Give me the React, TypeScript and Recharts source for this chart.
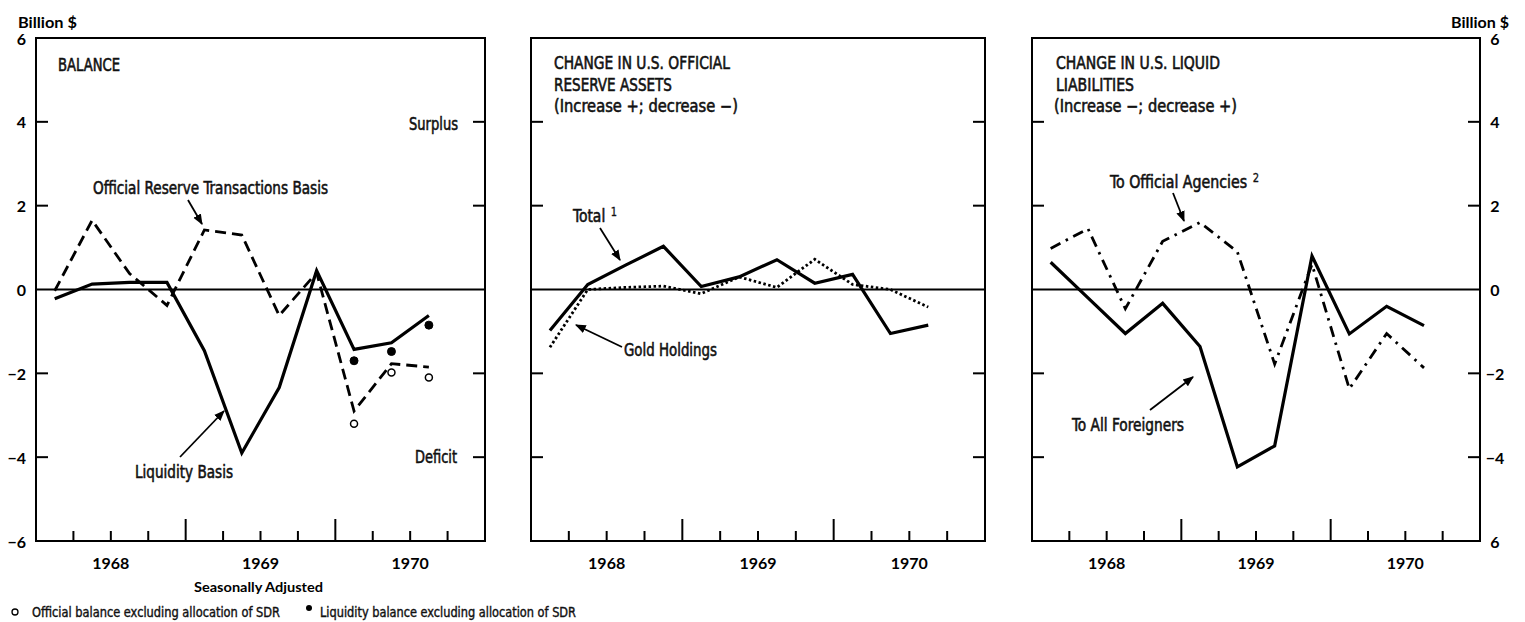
import { LineChart, Line, XAxis, YAxis, ReferenceLine, ReferenceArea } from "recharts";

// quarters on the time axis, 1968 Q1 .. 1970 Q4 (last quarter has no data yet)
const quarters = [
  "1968 Q1", "1968 Q2", "1968 Q3", "1968 Q4",
  "1969 Q1", "1969 Q2", "1969 Q3", "1969 Q4",
  "1970 Q1", "1970 Q2", "1970 Q3", "1970 Q4",
];
const years = ["1968", "1969", "1970"];

// Balance panel
const officialReserveBasis = [-0.03, 1.65, 0.38, -0.38, 1.42, 1.3, -0.62, 0.4, -2.9, -1.77, -1.85];
const liquidityBasis = [-0.22, 0.13, 0.17, 0.17, -1.46, -3.9, -2.34, 0.45, -1.43, -1.27, -0.62];
const officialExSdr = [null, null, null, null, null, null, null, null, -3.2, -1.98, -2.1];
const liquidityExSdr = [null, null, null, null, null, null, null, null, -1.7, -1.48, -0.85];

// Reserve assets panel
const reserveTotal = [-0.98, 0.12, 0.58, 1.03, 0.07, 0.3, 0.71, 0.15, 0.36, -1.05, -0.85];
const goldHoldings = [-1.38, 0.0, 0.05, 0.08, -0.1, 0.3, 0.05, 0.72, 0.12, 0.0, -0.42];

// Liquid liabilities panel
const toOfficialAgencies = [0.98, 1.45, -0.46, 1.15, 1.6, 0.9, -1.78, 0.6, -2.37, -1.05, -1.87];
const toAllForeigners = [0.65, -0.2, -1.05, -0.33, -1.36, -4.23, -3.73, 0.8, -1.06, -0.4, -0.86];

const yTicks = [-6, -4, -2, 0, 2, 4, 6];
const leftTickLabels = ["−6", "−4", "−2", "0", "2", "4", "6"];
const rightTickLabels = ["6", "−4", "−2", "0", "2", "4", "6"];
const quarterBounds = [1, 2, 3, 4, 5, 6, 7, 8, 9, 10, 11];

const NARROW = "'Liberation Sans Narrow', 'Arial Narrow', 'DejaVu Sans Condensed', sans-serif";
const HEAVY = "Lato, 'DejaVu Sans', sans-serif";

function buildRows(series: Record<string, (number | null)[]>) {
  return quarters.map((q, i) => {
    const row: Record<string, any> = { q, x: i + 0.5 };
    for (const key of Object.keys(series)) row[key] = series[key][i] ?? null;
    return row;
  });
}

// left axis tick: inward marks on both frame sides, labels outside
function YTick(props: any) {
  const { x, y, payload, plotWidth, leftLabels, rightLabels } = props;
  const v = payload.value;
  const idx = yTicks.indexOf(v);
  const mark = v !== 0 && Math.abs(v) !== 6;
  const xr = x + plotWidth;
  return (
    <g>
      {mark && <line x1={x} x2={x + 12} y1={y} y2={y} stroke="#000" strokeWidth={2} />}
      {mark && <line x1={xr} x2={xr - 12} y1={y} y2={y} stroke="#000" strokeWidth={2} />}
      {leftLabels && (
        <text x={x - 10} y={y} textAnchor="end" dominantBaseline="central"
          fontFamily={HEAVY} fontWeight={700} fontSize={16}>
          {leftLabels[idx]}
        </text>
      )}
      {rightLabels && (
        <text x={xr + 15} y={y} textAnchor="middle" dominantBaseline="central"
          fontFamily={HEAVY} fontWeight={700} fontSize={16}>
          {rightLabels[idx]}
        </text>
      )}
    </g>
  );
}

function XTick(props: any) {
  const { x, y, payload } = props;
  const v = payload.value;
  const long = v % 4 === 0;
  const yearIdx = (v - 2) / 4;
  return (
    <g>
      <line x1={x} x2={x} y1={y} y2={y - (long ? 22 : 10)} stroke="#000" strokeWidth={2} />
      {Number.isInteger(yearIdx) && years[yearIdx] && (
        <text x={x} y={y + 21} textAnchor="middle" dominantBaseline="central"
          fontFamily={HEAVY} fontWeight={700} fontSize={16}>
          {years[yearIdx]}
        </text>
      )}
    </g>
  );
}

function Panel({
  plotLeft,
  plotRight,
  rows,
  leftLabels,
  rightLabels,
  children,
}: {
  plotLeft: number;
  plotRight: number;
  rows: any[];
  leftLabels?: string[];
  rightLabels?: string[];
  children: React.ReactNode;
}) {
  const pad = 40;
  const plotWidth = plotRight - plotLeft;
  return (
    <div style={{ position: "absolute", left: plotLeft - pad, top: 0 }}>
      <LineChart
        width={plotWidth + pad * 2}
        height={622}
        data={rows}
        margin={{ top: 38, right: pad, bottom: 0, left: 0 }}
      >
        <XAxis
          type="number"
          dataKey="x"
          domain={[0, 12]}
          ticks={quarterBounds}
          interval={0}
          height={81}
          axisLine={false}
          tickLine={false}
          tickSize={0}
          tickMargin={0}
          tick={(p: any) => <XTick {...p} />}
        />
        <YAxis
          yAxisId="l"
          domain={[-6, 6]}
          ticks={yTicks}
          interval={0}
          width={pad}
          axisLine={false}
          tickLine={false}
          tickSize={0}
          tickMargin={0}
          tick={(p: any) => (
            <YTick {...p} plotWidth={plotWidth} leftLabels={leftLabels} rightLabels={rightLabels} />
          )}
        />
        <ReferenceArea
          yAxisId="l"
          x1={0}
          x2={12}
          y1={-6}
          y2={6}
          fill="none"
          stroke="#000"
          strokeWidth={2}
          ifOverflow="visible"
        />
        <ReferenceLine yAxisId="l" y={0} stroke="#000" strokeWidth={2} />
        {children}
      </LineChart>
    </div>
  );
}

const lineBase = {
  yAxisId: "l",
  type: "linear" as const,
  dot: false,
  activeDot: false,
  isAnimationActive: false,
  stroke: "#000",
};

function Note({ x, y, w, size = 17, anchor = "start", weight = 0.55, sup, children }: any) {
  return (
    <text
      x={x}
      y={y}
      textLength={w}
      lengthAdjust="spacingAndGlyphs"
      textAnchor={anchor}
      dominantBaseline="central"
      fontFamily={NARROW}
      fontSize={size}
      fill="#111"
      stroke="#111"
      strokeWidth={weight}
    >
      {children}
      {sup && (
        <tspan dx={6} dy={-4} fontSize={12} strokeWidth={0.3}>
          {sup}
        </tspan>
      )}
    </text>
  );
}

function Annotations() {
  const arrow = { stroke: "#000", strokeWidth: 1.8, markerEnd: "url(#ah)" };
  const heavy = { fontFamily: HEAVY, fontWeight: 700, dominantBaseline: "central" as const };
  return (
    <svg width={1525} height={622} style={{ position: "absolute", left: 0, top: 0, pointerEvents: "none" }}>
      <defs>
        <marker id="ah" viewBox="0 0 10 10" refX="9" refY="5" markerWidth="6" markerHeight="6" orient="auto">
          <path d="M0,1 L10,5 L0,9 z" fill="#000" />
        </marker>
      </defs>
      <text x={18} y={22} fontSize={15} textLength={59} lengthAdjust="spacingAndGlyphs" {...heavy}>Billion $</text>
      <text x={1451} y={22} fontSize={15} textLength={58} lengthAdjust="spacingAndGlyphs" {...heavy}>Billion $</text>
      <text x={194} y={586} fontSize={14} textLength={129} lengthAdjust="spacingAndGlyphs" {...heavy}>Seasonally Adjusted</text>

      {/* balance panel */}
      <Note x={58} y={65} w={62}>BALANCE</Note>
      <Note x={458} y={124} w={49} anchor="end">Surplus</Note>
      <Note x={93} y={188} w={235}>Official Reserve Transactions Basis</Note>
      <line x1={188} y1={200} x2={202} y2={224} {...arrow} />
      <Note x={135} y={472} w={98}>Liquidity Basis</Note>
      <line x1={180} y1={457} x2={224} y2={411} {...arrow} />
      <Note x={457} y={457} w={42} anchor="end">Deficit</Note>

      {/* reserve assets panel */}
      <Note x={554} y={63} w={176}>CHANGE IN U.S. OFFICIAL</Note>
      <Note x={554} y={85} w={118}>RESERVE ASSETS</Note>
      <Note x={554} y={106} w={184}>(Increase +; decrease −)</Note>
      <Note x={573} y={216} w={44} sup="1">Total</Note>
      <line x1={600} y1={228} x2={620} y2={260} {...arrow} />
      <Note x={624} y={350} w={93}>Gold Holdings</Note>
      <line x1={622} y1={347} x2={576} y2={325} {...arrow} />

      {/* liquid liabilities panel */}
      <Note x={1056} y={63} w={164}>CHANGE IN U.S. LIQUID</Note>
      <Note x={1056} y={85} w={78}>LIABILITIES</Note>
      <Note x={1054} y={106} w={183}>(Increase −; decrease +)</Note>
      <Note x={1110} y={182} w={149} sup="2">To Official Agencies</Note>
      <line x1={1173} y1={193} x2={1184} y2={221} {...arrow} />
      <Note x={1072} y={425} w={112}>To All Foreigners</Note>
      <line x1={1150} y1={410} x2={1193} y2={377} {...arrow} />

      {/* footnote */}
      <circle cx={15} cy={612} r={3} fill="#fff" stroke="#000" strokeWidth={1.3} />
      <Note x={32} y={612} w={248} size={14} weight={0.4}>Official balance excluding allocation of SDR</Note>
      <circle cx={309} cy={608} r={3} fill="#000" />
      <Note x={320} y={612} w={256} size={14} weight={0.4}>Liquidity balance excluding allocation of SDR</Note>
    </svg>
  );
}

export default function App() {
  const balanceRows = buildRows({ officialReserveBasis, liquidityBasis, officialExSdr, liquidityExSdr });
  const reserveRows = buildRows({ reserveTotal, goldHoldings });
  const liabilityRows = buildRows({ toOfficialAgencies, toAllForeigners });

  return (
    <div style={{ position: "absolute", left: 0, top: 0, width: 1525, height: 622, background: "#fff", overflow: "hidden" }}>
      <Panel plotLeft={36} plotRight={485} rows={balanceRows} leftLabels={leftTickLabels}>
        <Line {...lineBase} dataKey="officialReserveBasis" strokeWidth={2.8} strokeDasharray="11 6" />
        <Line {...lineBase} dataKey="liquidityBasis" strokeWidth={3.2} />
        <Line
          {...lineBase}
          dataKey="officialExSdr"
          stroke="none"
          dot={{ r: 3.5, fill: "#fff", stroke: "#000", strokeWidth: 1.5 }}
        />
        <Line
          {...lineBase}
          dataKey="liquidityExSdr"
          stroke="none"
          dot={{ r: 4, fill: "#000", stroke: "#000", strokeWidth: 1 }}
        />
      </Panel>
      <Panel plotLeft={531} plotRight={985} rows={reserveRows}>
        <Line {...lineBase} dataKey="goldHoldings" strokeWidth={2.8} strokeDasharray="2.5 2.5" />
        <Line {...lineBase} dataKey="reserveTotal" strokeWidth={3.2} />
      </Panel>
      <Panel plotLeft={1032} plotRight={1480} rows={liabilityRows} rightLabels={rightTickLabels}>
        <Line {...lineBase} dataKey="toOfficialAgencies" strokeWidth={2.8} strokeDasharray="11 6 2.5 6" />
        <Line {...lineBase} dataKey="toAllForeigners" strokeWidth={3.2} />
      </Panel>
      <Annotations />
    </div>
  );
}
